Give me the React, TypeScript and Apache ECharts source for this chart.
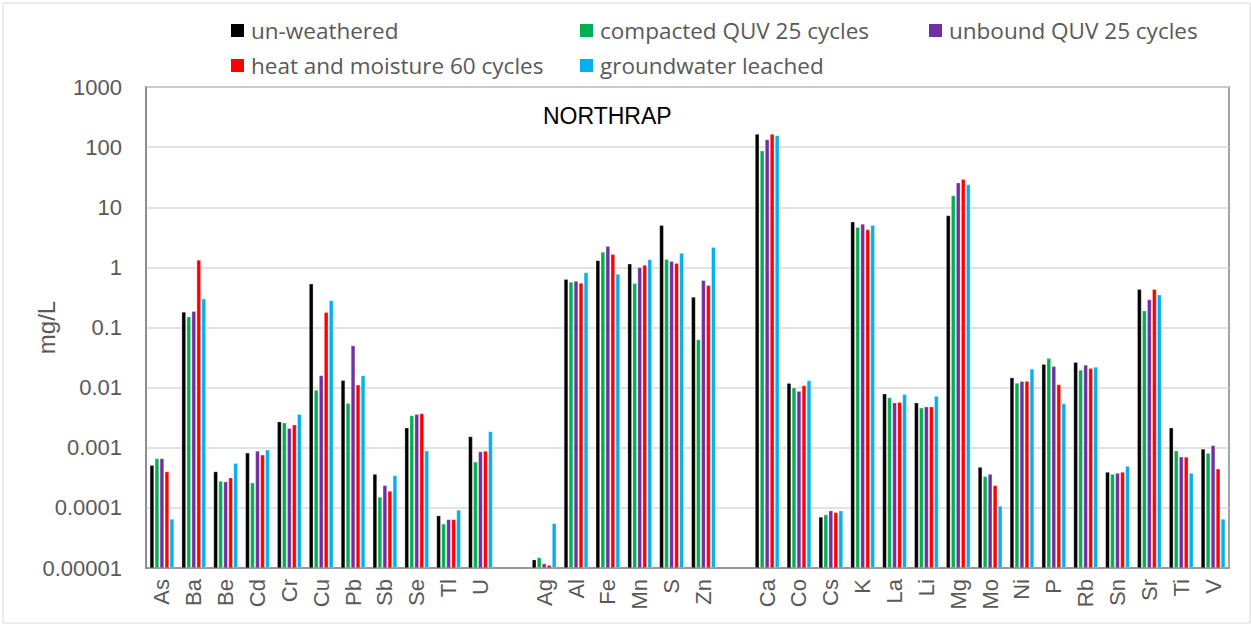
import React, { useEffect, useRef } from "react";
import * as echarts from "echarts";

const categories = ["As","Ba","Be","Cd","Cr","Cu","Pb","Sb","Se","Tl","U","","Ag","Al","Fe","Mn","S","Zn"," ","Ca","Co","Cs","K","La","Li","Mg","Mo","Ni","P","Rb","Sn","Sr","Ti","V"];

const unWeathered = [0.00051,0.18,0.0004,0.00082,0.0027,0.53,0.0132,0.000363,0.00214,0.000074,0.00153,null,0.0000137,0.63,1.3,1.14,5.0,0.32,null,164,0.0118,0.0000703,5.7,0.0079,0.0056,7.25,0.000475,0.0146,0.0244,0.0263,0.000393,0.43,0.00214,0.00095];
const compacted = [0.00066,0.15,0.000278,0.000261,0.00259,0.0091,0.0055,0.000151,0.00343,0.000054,0.00058,null,0.0000149,0.57,1.79,0.54,1.36,0.063,null,87,0.0099,0.0000768,4.64,0.0068,0.0046,15.6,0.000333,0.0119,0.0306,0.0196,0.000363,0.19,0.00089,0.00081];
const unbound = [0.00066,0.186,0.000272,0.00088,0.0021,0.0158,0.0498,0.000236,0.0036,0.000064,0.00086,null,0.0000118,0.59,2.24,0.99,1.26,0.61,null,133,0.0087,0.0000895,5.27,0.0056,0.0048,25.5,0.000363,0.0127,0.0226,0.0238,0.000378,0.29,0.000705,0.00109];
const heatMoisture = [0.0004,1.32,0.000316,0.00076,0.0024,0.178,0.0111,0.00019,0.0037,0.000064,0.00088,null,0.0000111,0.55,1.65,1.09,1.17,0.5,null,164,0.0108,0.0000839,4.25,0.0057,0.0048,29,0.000236,0.0128,0.0112,0.0209,0.000393,0.43,0.0007,0.000445];
const groundwater = [0.000065,0.3,0.00055,0.00092,0.0036,0.28,0.0158,0.000345,0.00089,0.000092,0.00186,null,0.000055,0.82,0.77,1.35,1.72,2.16,null,156,0.0131,0.0000895,5.0,0.0077,0.0072,23.7,0.000107,0.0204,0.0054,0.022,0.000494,0.35,0.000378,0.000065];

const yTickLabels = ["0.00001","0.0001","0.001","0.01","0.1","1","10","100","1000"];

const seriesDefs = [
  { name: "un-weathered", data: unWeathered, color: "#000000" },
  { name: "compacted QUV 25 cycles", data: compacted, color: "#00B050" },
  { name: "unbound QUV 25 cycles", data: unbound, color: "#7030A0" },
  { name: "heat and moisture 60 cycles", data: heatMoisture, color: "#FF0000" },
  { name: "groundwater leached", data: groundwater, color: "#00B0F0" },
];

export default function App() {
  const ref = useRef<HTMLDivElement>(null);
  useEffect(() => {
    if (!ref.current) return;
    const chart = echarts.init(ref.current, null, { renderer: "svg" });
    const legendText = { fontSize: 22.5, color: "#595959", fontFamily: "Open Sans", padding: [0, 0, 0, 1] };
    const mkLegend = (left: number, names: string[]) => ({
      left, top: 19, orient: "vertical", itemGap: 12, itemWidth: 15, itemHeight: 15,
      icon: "rect", textStyle: legendText, data: names, padding: 0,
    });
    chart.setOption({
      animation: false,
      backgroundColor: "#ffffff",
      textStyle: { fontFamily: "Liberation Sans" },
      graphic: [
        { type: "rect", shape: { x: 3, y: 3, width: 1247, height: 620 }, style: { fill: "none", stroke: "#d9d9d9", lineWidth: 1 } },
        { type: "text", left: 543, top: 104, style: { text: "NORTHRAP", fontSize: 23, fill: "#000000", fontFamily: "Liberation Sans" } },
      ],
      legend: [
        mkLegend(229, ["un-weathered", "heat and moisture 60 cycles"]),
        mkLegend(578, ["compacted QUV 25 cycles", "groundwater leached"]),
        mkLegend(927, ["unbound QUV 25 cycles"]),
      ],
      grid: { left: 146, top: 87, right: 22, bottom: 56, show: true, borderColor: "#868686", borderWidth: 1.5, containLabel: false },
      xAxis: {
        type: "category",
        data: categories,
        axisLine: { lineStyle: { color: "#868686", width: 1.5 } },
        axisTick: { show: false },
        axisLabel: { rotate: 90, fontSize: 22, color: "#595959", margin: 11, interval: 0 },
      },
      yAxis: {
        type: "log",
        logBase: 10,
        min: 0.00001,
        max: 1000,
        startValue: 0.00001,
        name: "mg/L",
        nameLocation: "middle",
        nameGap: 88,
        nameMoveOverlap: false,
        nameTextStyle: { fontSize: 24, color: "#595959" },
        axisLine: { show: true, lineStyle: { color: "#868686", width: 1.5 } },
        axisTick: { show: false },
        splitLine: { lineStyle: { color: "#d9d9d9", width: 1.5 } },
        axisLabel: {
          fontSize: 22, color: "#595959", margin: 24,
          formatter: (v: number) => yTickLabels[Math.round(Math.log10(v)) + 5] ?? "",
        },
      },
      series: seriesDefs.map((s) => ({
        name: s.name,
        type: "bar",
        data: s.data,
        barWidth: 4,
        barGap: "25%",
        itemStyle: { color: s.color, borderColor: "#ffffff", borderWidth: 0.3 },
      })),
    });
    return () => chart.dispose();
  }, []);
  return <div ref={ref} style={{ position: "fixed", left: 0, top: 0, width: 1251, height: 624 }} />;
}
